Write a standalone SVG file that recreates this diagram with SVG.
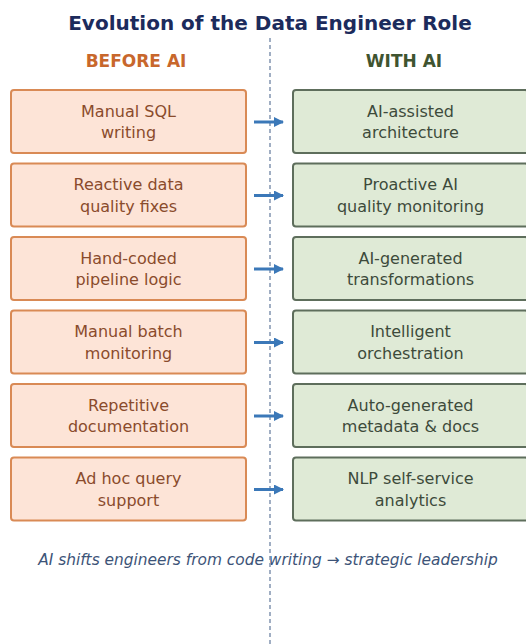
<svg xmlns="http://www.w3.org/2000/svg" width="526" height="644" viewBox="0 0 526 644">
  <defs>
    <marker id="arr" viewBox="0 0 10 10" refX="9" refY="5" markerWidth="10" markerHeight="10" markerUnits="userSpaceOnUse" orient="auto">
      <path d="M0,0 L10,5 L0,10 z" fill="#3b78b8"/>
    </marker>
  </defs>
  <style>
    text { font-family: "DejaVu Sans", "Noto Sans", sans-serif; }
    .title { font-size: 20px; font-weight: bold; fill: #1c2b5c; text-anchor: middle; }
    .head { font-size: 17px; font-weight: bold; text-anchor: middle; }
    .before rect { fill: #fde4d7; stroke: #d98a55; stroke-width: 2; }
    .after rect { fill: #dfead6; stroke: #5e6e5c; stroke-width: 2; }
    .before text { font-size: 16px; fill: #8a4b2c; text-anchor: middle; }
    .after text { font-size: 16px; fill: #3d4a3b; text-anchor: middle; }
    .link { stroke: #3b78b8; stroke-width: 3; fill: none; marker-end: url(#arr); }
    .divider { stroke: #8194b0; stroke-width: 1.5; stroke-dasharray: 4 3; }
    .caption { font-size: 15.4px; font-style: italic; fill: #3d5478; text-anchor: middle; }
  </style>
  <rect width="526" height="644" fill="#ffffff"/>

  <text class="title" x="270" y="30">Evolution of the Data Engineer Role</text>
  <text class="head" x="136" y="67" fill="#c8672c">BEFORE AI</text>
  <text class="head" x="404" y="67" fill="#3f5430">WITH AI</text>

  <!-- before column -->
  <g id="b1" class="before"><rect x="11" y="90" width="235" height="63" rx="3"/><text x="128.5" y="116.5">Manual SQL</text><text x="128.5" y="138">writing</text></g>
  <g id="b2" class="before"><rect x="11" y="163.5" width="235" height="63" rx="3"/><text x="128.5" y="190">Reactive data</text><text x="128.5" y="211.5">quality fixes</text></g>
  <g id="b3" class="before"><rect x="11" y="237" width="235" height="63" rx="3"/><text x="128.5" y="263.5">Hand-coded</text><text x="128.5" y="285">pipeline logic</text></g>
  <g id="b4" class="before"><rect x="11" y="310.5" width="235" height="63" rx="3"/><text x="128.5" y="337">Manual batch</text><text x="128.5" y="358.5">monitoring</text></g>
  <g id="b5" class="before"><rect x="11" y="384" width="235" height="63" rx="3"/><text x="128.5" y="410.5">Repetitive</text><text x="128.5" y="432">documentation</text></g>
  <g id="b6" class="before"><rect x="11" y="457.5" width="235" height="63" rx="3"/><text x="128.5" y="484">Ad hoc query</text><text x="128.5" y="505.5">support</text></g>

  <!-- with-AI column -->
  <g id="a1" class="after"><rect x="293" y="90" width="235" height="63" rx="3"/><text x="410.5" y="116.5">AI-assisted</text><text x="410.5" y="138">architecture</text></g>
  <g id="a2" class="after"><rect x="293" y="163.5" width="235" height="63" rx="3"/><text x="410.5" y="190">Proactive AI</text><text x="410.5" y="211.5">quality monitoring</text></g>
  <g id="a3" class="after"><rect x="293" y="237" width="235" height="63" rx="3"/><text x="410.5" y="263.5">AI-generated</text><text x="410.5" y="285">transformations</text></g>
  <g id="a4" class="after"><rect x="293" y="310.5" width="235" height="63" rx="3"/><text x="410.5" y="337">Intelligent</text><text x="410.5" y="358.5">orchestration</text></g>
  <g id="a5" class="after"><rect x="293" y="384" width="235" height="63" rx="3"/><text x="410.5" y="410.5">Auto-generated</text><text x="410.5" y="432">metadata &amp; docs</text></g>
  <g id="a6" class="after"><rect x="293" y="457.5" width="235" height="63" rx="3"/><text x="410.5" y="484">NLP self-service</text><text x="410.5" y="505.5">analytics</text></g>

  <text class="caption" x="268" y="565">AI shifts engineers from code writing → strategic leadership</text>

  <!-- connectors -->
  <g id="connectors">
    <line class="divider" x1="270" y1="38" x2="270" y2="644"/>
    <line class="link" x1="254" y1="122" x2="283" y2="122"/>
    <line class="link" x1="254" y1="195.5" x2="283" y2="195.5"/>
    <line class="link" x1="254" y1="269" x2="283" y2="269"/>
    <line class="link" x1="254" y1="342.5" x2="283" y2="342.5"/>
    <line class="link" x1="254" y1="416" x2="283" y2="416"/>
    <line class="link" x1="254" y1="489.5" x2="283" y2="489.5"/>
  </g>
</svg>
